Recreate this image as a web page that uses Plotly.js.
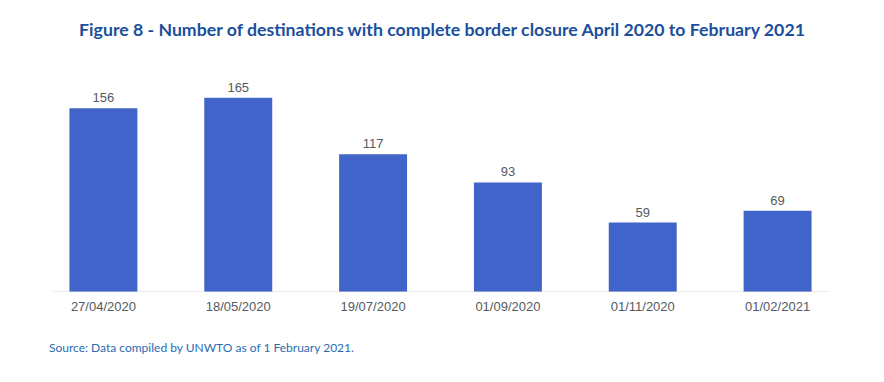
<!DOCTYPE html>
<html>
<head>
<meta charset="utf-8">
<script src="https://cdn.plot.ly/plotly-3.0.1.min.js"></script>
<style>html,body{margin:0;padding:0;background:#fff;}#chart{width:884px;height:382px;}</style>
</head>
<body>
<div id="chart"></div>
<script>
const dates = ["27/04/2020", "18/05/2020", "19/07/2020", "01/09/2020", "01/11/2020", "01/02/2021"];
const destinations = [156, 165, 117, 93, 59, 69];

const trace = {
  type: 'bar',
  x: dates,
  y: destinations,
  text: destinations.map(String),
  textposition: 'outside',
  cliponaxis: false,
  textfont: {family: 'Liberation Sans, Arial, sans-serif', size: 13, color: '#555a60'},
  marker: {color: '#4064c9', line: {width: 0}},
  hoverinfo: 'x+y'
};

const layout = {
  width: 884, height: 382,
  margin: {l: 35.5, r: 39, t: 80, b: 90},
  paper_bgcolor: '#ffffff', plot_bgcolor: '#ffffff',
  bargap: 0.496,
  showlegend: false,
  title: {
    text: '<b>Figure 8 - Number of destinations with complete border closure April 2020 to February 2021</b>',
    font: {family: 'Lato, Open Sans, sans-serif', size: 17.7, color: '#1b4f9c'},
    x: 0.5, xanchor: 'center', xref: 'container',
    y: 1 - 30/382, yanchor: 'middle', yref: 'container'
  },
  xaxis: {
    type: 'category',
    showgrid: false, zeroline: false, showline: false,
    ticks: '', ticklabelstandoff: 5,
    tickfont: {family: 'Liberation Sans, Arial, sans-serif', size: 13, color: '#555a60'},
    fixedrange: true
  },
  yaxis: {
    range: [0, 180], visible: false, showgrid: false, zeroline: false, fixedrange: true
  },
  shapes: [{
    type: 'line', xref: 'paper', yref: 'y',
    x0: 0.0204, x1: 0.981, y0: 0, y1: 0,
    line: {color: '#d9d9d9', width: 1}
  }],
  annotations: [{
    text: 'Source: Data compiled by UNWTO as of 1 February 2021.',
    xref: 'paper', yref: 'paper', x: 0.0142, y: -0.264,
    xanchor: 'left', yanchor: 'middle', showarrow: false,
    font: {family: 'Lato, Open Sans, sans-serif', size: 12, color: '#2a6cb3'}
  }]
};

Plotly.newPlot('chart', [trace], layout, {displayModeBar: false, staticPlot: true});
</script>
</body>
</html>
